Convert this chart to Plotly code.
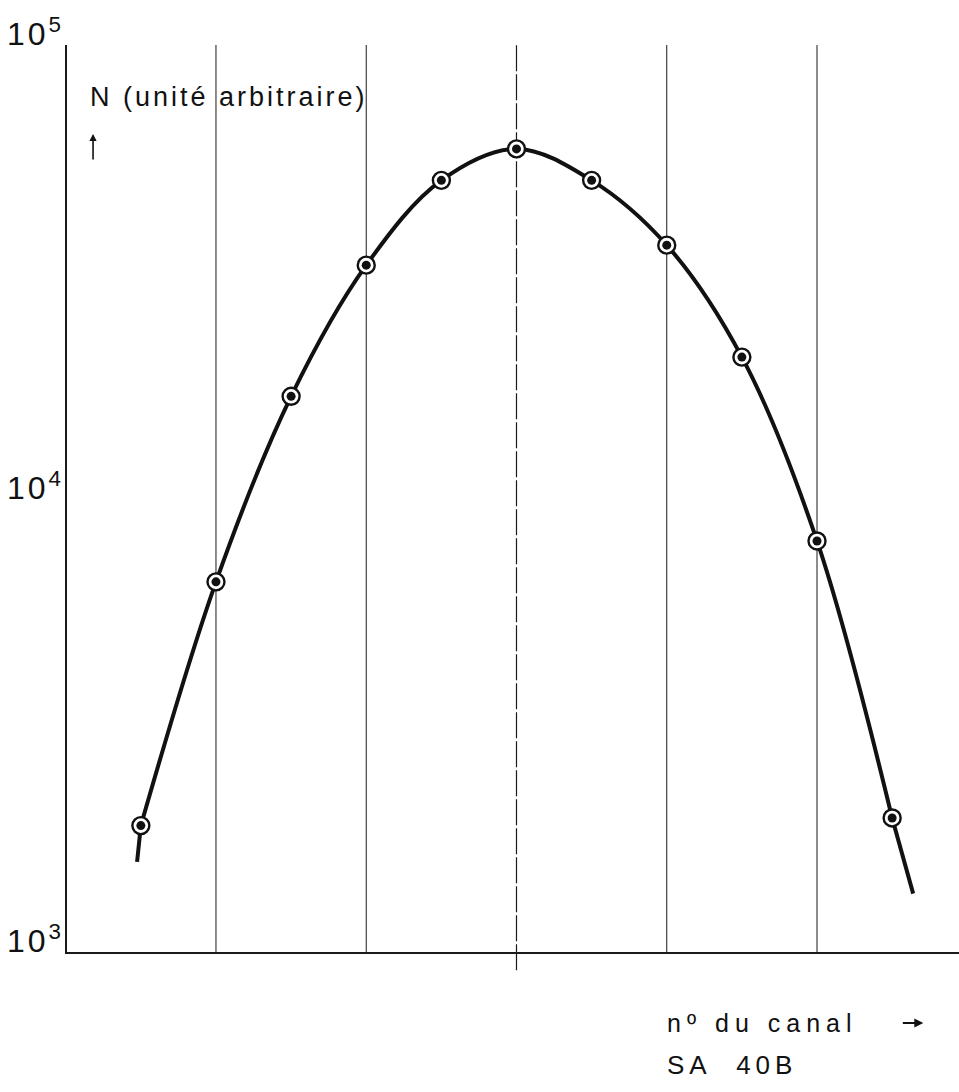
import plotly.graph_objects as go

# Measured spectrum: counts per channel (arbitrary units)
channels = [1, 2, 3, 4, 5, 6, 7, 8, 9, 10, 11]
counts = [1900, 6550, 16800, 32700, 50300, 59000, 50300, 36200, 20500, 8060, 1975]

# Short straight continuations of the fitted curve beyond the first and last points
tail_left_x = [0.95, 1]
tail_left_y = [1580, 1900]
tail_right_x = [11, 11.28]
tail_right_y = [1975, 1345]

# Decade labels on the log axis
decades = [3, 4, 5]
grid_channels = [2, 4, 8, 10]
centre_channel = 6

FONT = "Liberation Sans, Arial, Helvetica, sans-serif"
INK = "#111111"


def spaced(text, px):
    return f'<span style="letter-spacing:{px}px">{text}</span>'


fig = go.Figure()

line_style = dict(color=INK, width=4)
fig.add_trace(go.Scatter(
    x=channels, y=counts, mode="lines",
    line=dict(**line_style, shape="spline", smoothing=1.0),
    hoverinfo="skip", showlegend=False,
))
for tx, ty in ((tail_left_x, tail_left_y), (tail_right_x, tail_right_y)):
    fig.add_trace(go.Scatter(
        x=tx, y=ty, mode="lines", line=line_style,
        hoverinfo="skip", showlegend=False,
    ))
fig.add_trace(go.Scatter(
    x=channels, y=counts, mode="markers",
    marker=dict(symbol="circle", size=17, color="white",
                line=dict(color=INK, width=2.4)),
    showlegend=False,
))
fig.add_trace(go.Scatter(
    x=channels, y=counts, mode="markers",
    marker=dict(symbol="circle", size=9, color=INK, line=dict(width=0)),
    showlegend=False, hoverinfo="skip",
))

shapes = []
for c in grid_channels:
    shapes.append(dict(type="line", xref="x", yref="paper", x0=c, x1=c, y0=0, y1=1,
                       line=dict(color="#1a1a1a", width=1), layer="below"))
shapes.append(dict(type="line", xref="x", yref="paper", x0=centre_channel, x1=centre_channel,
                   y0=-0.02, y1=1, line=dict(color="#1a1a1a", width=1.2, dash="26px,3px"),
                   layer="below"))
# horizontal rule at 10^4 and the top frame line at 10^5
shapes.append(dict(type="line", xref="paper", yref="y", x0=0, x1=1, y0=4, y1=4,
                   line=dict(color="#1a1a1a", width=1.2), layer="below"))
shapes.append(dict(type="line", xref="paper", yref="y", x0=0, x1=1, y0=5, y1=5,
                   line=dict(color="#1a1a1a", width=1.6), layer="below"))

annotations = []
for d in decades:
    annotations.append(dict(
        text=f'{spaced("10", 3)}<sup>{d}</sup>', xref="paper", yref="y", x=0, y=d,
        xanchor="right", yanchor="bottom", xshift=-4, yshift=-9,
        showarrow=False, font=dict(family=FONT, size=32, color=INK),
    ))

annotations += [
    dict(text=spaced("N (unité arbitraire)", 3), xref="paper", yref="paper",
         x=0.0235, y=0.943, xanchor="left", yanchor="middle", showarrow=False,
         font=dict(family=FONT, size=27, color=INK)),
    # upward arrow under the N label
    dict(text="", xref="paper", yref="paper", axref="pixel", ayref="pixel",
         x=0.0292, y=0.902, ax=0, ay=27, showarrow=True,
         arrowhead=2, arrowsize=0.9, arrowwidth=1.6, arrowcolor=INK),
    dict(text=spaced("nº du canal", 6), xref="paper", yref="paper",
         x=0.6704, y=-0.0783, xanchor="left", yanchor="middle", showarrow=False,
         font=dict(family=FONT, size=25, color=INK)),
    # arrow after the axis caption
    dict(text="", xref="paper", yref="paper", axref="pixel", ayref="pixel",
         x=0.960, y=-0.0783, ax=-22, ay=0, showarrow=True,
         arrowhead=2, arrowsize=1.0, arrowwidth=1.8, arrowcolor=INK),
    dict(text=spaced("SA\u00a0\u00a040B", 5), xref="paper", yref="paper",
         x=0.6704, y=-0.1246, xanchor="left", yanchor="middle", showarrow=False,
         font=dict(family=FONT, size=26, color=INK)),
]

fig.update_layout(
    width=959, height=1092,
    margin=dict(l=67, r=0, t=45, b=140),
    paper_bgcolor="white", plot_bgcolor="white",
    shapes=shapes, annotations=annotations,
    xaxis=dict(range=[0.017, 11.89], showgrid=False, zeroline=False,
               showticklabels=False, ticks="", showline=True,
               linecolor="#1a1a1a", linewidth=1.8),
    yaxis=dict(type="log", range=[3, 5], showgrid=False, zeroline=False,
               showticklabels=False, ticks="", showline=True,
               linecolor="#1a1a1a", linewidth=1.8),
)

fig.write_html("out.html")
